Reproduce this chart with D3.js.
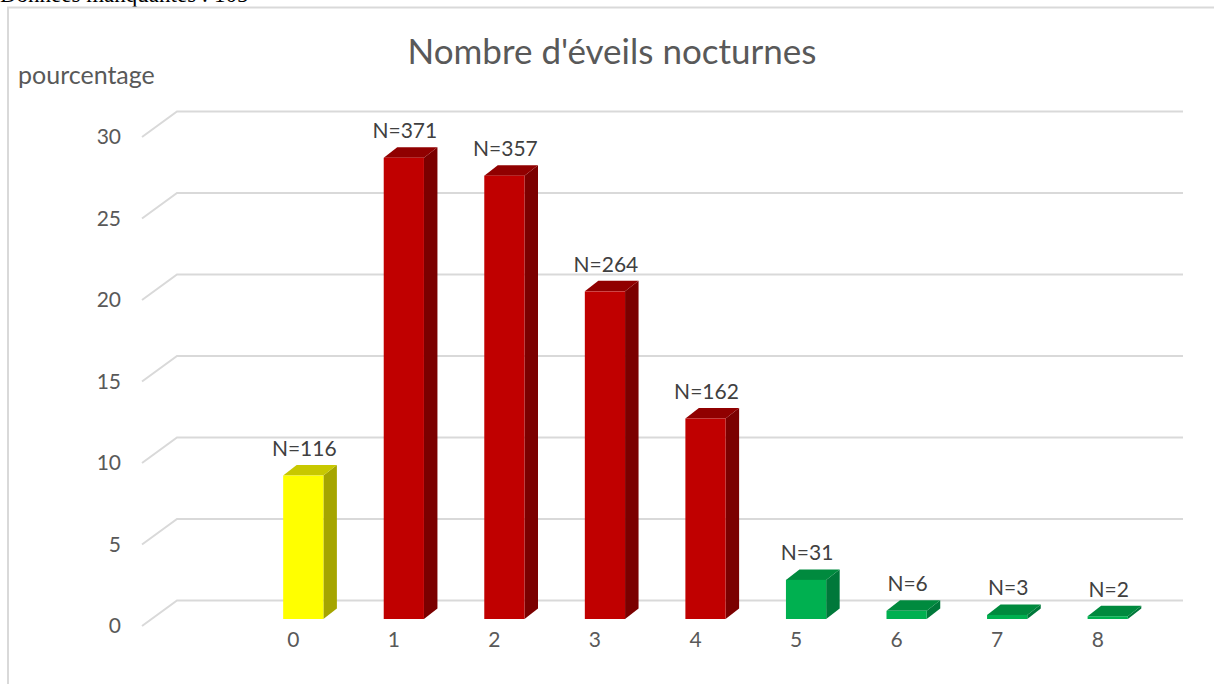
<!DOCTYPE html>
<html>
<head>
<meta charset="utf-8">
<script src="https://d3js.org/d3.v7.min.js"></script>
<style>
	body { margin: 0; background: #fff; }
	svg { display: block; }
</style>
</head>
<body>
<script>
/* Data. */
const categories = ['0', '1', '2', '3', '4', '5', '6', '7', '8'];
const percentages = [8.8, 28.3, 27.2, 20.1, 12.3, 2.4, 0.5, 0.25, 0.17];
const barLabels = ['N=116', 'N=371', 'N=357', 'N=264', 'N=162', 'N=31', 'N=6', 'N=3', 'N=2'];
const barGroups = ['yellow', 'red', 'red', 'red', 'red', 'green', 'green', 'green', 'green'];
const yTicks = [0, 5, 10, 15, 20, 25, 30];

/* Face colours for each group: front, side, top. */
const palette = {
	yellow: { front: '#ffff00', side: '#a5a500', top: '#c8c800' },
	red: { front: '#c00000', side: '#7b0000', top: '#900000' },
	green: { front: '#00b050', side: '#00783a', top: '#008a3e' }
};

const font = 'Lato, "Open Sans", sans-serif';

/**
 * Draws the 3D column chart.
 */
function createChart() {
	const width = 1214;
	const height = 684;

	/* Depth of the floor and depth of one bar. */
	const depth = [35, -25.5];
	const barOffset = [10, -7];
	const barDepth = [13.5, -10.5];

	let svg = d3.select('body').append('svg')
		.attr('width', width)
		.attr('height', height);

	/* Text cut at the top of the image, as in the source. */
	svg.append('text')
		.attr('x', 0)
		.attr('y', 2)
		.attr('font-family', '"Liberation Serif", serif')
		.attr('font-size', 23)
		.attr('fill', '#000')
		.text('Données manquantes : 105');

	/* Chart area border. */
	svg.append('rect')
		.attr('x', 8)
		.attr('y', 7.5)
		.attr('width', 1220)
		.attr('height', 700)
		.attr('fill', 'none')
		.attr('stroke', '#d9d9d9')
		.attr('stroke-width', 2);

	let xScale = d3.scaleBand()
		.domain(categories)
		.range([243, 1148])
		.paddingInner(0.6)
		.paddingOuter(0.3);
	let yScale = d3.scaleLinear()
		.domain([0, 30])
		.range([626, 137]);

	/* Back wall gridlines with the left floor edge. */
	svg.append('g')
		.selectAll('path')
			.data(yTicks)
		.enter().append('path')
			.attr('d', function(tick) {
				let y = yScale(tick);
				return 'M142,' + y + 'L' + (142 + depth[0]) + ',' + (y + depth[1]) +
					'H' + (1148 + depth[0]);
			})
			.attr('fill', 'none')
			.attr('stroke', '#d9d9d9')
			.attr('stroke-width', 2);

	/* Y tick labels. */
	svg.append('g')
		.selectAll('text')
			.data(yTicks)
		.enter().append('text')
			.attr('x', 121)
			.attr('y', function(tick) { return yScale(tick); })
			.attr('dy', '0.35em')
			.attr('text-anchor', 'end')
			.attr('font-family', font)
			.attr('font-size', 21)
			.attr('fill', '#595959')
			.text(function(tick) { return tick; });

	/* X tick labels. */
	svg.append('g')
		.selectAll('text')
			.data(categories)
		.enter().append('text')
			.attr('x', function(c) { return xScale(c) + xScale.bandwidth() / 2; })
			.attr('y', 640)
			.attr('dy', '0.35em')
			.attr('text-anchor', 'middle')
			.attr('font-family', font)
			.attr('font-size', 21)
			.attr('fill', '#595959')
			.text(function(c) { return c; });

	/* Bars. */
	let bars = svg.append('g')
		.selectAll('g')
			.data(categories)
		.enter().append('g');

	let face = function(c, i) {
		let x0 = xScale(c) + barOffset[0];
		let x1 = x0 + xScale.bandwidth();
		let y0 = yScale(0) + barOffset[1];
		let y1 = yScale(percentages[i]) + barOffset[1];
		return { x0: x0, x1: x1, y0: y0, y1: y1 };
	};

	bars.append('path')
		.attr('d', function(c, i) {
			let f = face(c, i);
			return 'M' + f.x1 + ',' + f.y0 + 'L' + (f.x1 + barDepth[0]) + ',' + (f.y0 + barDepth[1]) +
				'L' + (f.x1 + barDepth[0]) + ',' + (f.y1 + barDepth[1]) + 'L' + f.x1 + ',' + f.y1 + 'Z';
		})
		.attr('fill', function(c, i) { return palette[barGroups[i]].side; });

	bars.append('path')
		.attr('d', function(c, i) {
			let f = face(c, i);
			return 'M' + f.x0 + ',' + f.y1 + 'L' + (f.x0 + barDepth[0]) + ',' + (f.y1 + barDepth[1]) +
				'L' + (f.x1 + barDepth[0]) + ',' + (f.y1 + barDepth[1]) + 'L' + f.x1 + ',' + f.y1 + 'Z';
		})
		.attr('fill', function(c, i) { return palette[barGroups[i]].top; });

	bars.append('rect')
		.attr('x', function(c, i) { return face(c, i).x0; })
		.attr('y', function(c, i) { return face(c, i).y1; })
		.attr('width', xScale.bandwidth())
		.attr('height', function(c, i) { let f = face(c, i); return f.y0 - f.y1; })
		.attr('fill', function(c, i) { return palette[barGroups[i]].front; });

	/* Value labels. */
	bars.append('text')
		.attr('x', function(c, i) { let f = face(c, i); return (f.x0 + f.x1) / 2 + 1; })
		.attr('y', function(c, i) { return face(c, i).y1 + barDepth[1] - 9; })
		.attr('text-anchor', 'middle')
		.attr('font-family', font)
		.attr('font-size', 21)
		.attr('fill', '#404040')
		.text(function(c, i) { return barLabels[i]; });

	/* Title and axis name. */
	svg.append('text')
		.attr('x', 612)
		.attr('y', 64)
		.attr('text-anchor', 'middle')
		.attr('font-family', font)
		.attr('font-size', 35)
		.attr('fill', '#595959')
		.text("Nombre d'éveils nocturnes");

	svg.append('text')
		.attr('x', 18)
		.attr('y', 84)
		.attr('font-family', font)
		.attr('font-size', 25)
		.attr('fill', '#595959')
		.text('pourcentage');
}

window.onload = function() {
	createChart();
};
</script>
</body>
</html>
